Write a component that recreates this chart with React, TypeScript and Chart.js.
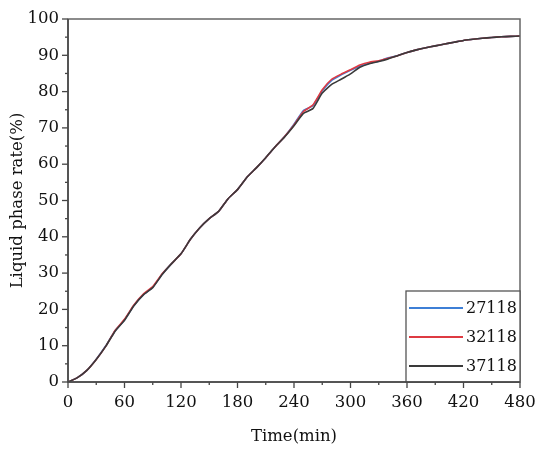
import { useRef, useEffect } from "react"
import React from "react"
import { Chart, registerables } from "chart.js"

Chart.register(...registerables)

const times = [0, 10, 20, 30, 40, 50, 60, 70, 80, 90, 100, 110, 120, 130, 140, 150, 160, 170, 180, 190, 200, 210, 220, 230, 240, 250, 260, 270, 280, 290, 300, 310, 320, 330, 340, 350, 360, 370, 380, 390, 400, 410, 420, 430, 440, 450, 460, 470, 480]

const s27118 = [0, 1.2, 3.2, 6.3, 9.9, 14.1, 17.1, 21.1, 24.0, 26.1, 29.7, 32.6, 35.3, 39.3, 42.5, 45.0, 47.0, 50.5, 53.0, 56.4, 59.0, 61.8, 64.8, 67.6, 71.0, 74.8, 76.1, 80.2, 83.1, 84.6, 85.9, 87.0, 87.8, 88.4, 89.3, 89.9, 90.8, 91.5, 92.1, 92.6, 93.1, 93.6, 94.1, 94.4, 94.7, 94.9, 95.1, 95.2, 95.3]

const s32118 = [0, 1.2, 3.2, 6.2, 9.8, 14.2, 17.3, 21.2, 24.2, 26.3, 29.8, 32.6, 35.3, 39.3, 42.5, 45.0, 47.0, 50.5, 53.0, 56.4, 59.0, 61.8, 64.8, 67.6, 70.8, 74.5, 76.3, 80.5, 83.4, 84.8, 86.0, 87.3, 88.1, 88.5, 89.2, 89.9, 90.8, 91.5, 92.1, 92.6, 93.1, 93.6, 94.1, 94.4, 94.7, 94.9, 95.1, 95.2, 95.3]

const s37118 = [0, 1.2, 3.2, 6.2, 9.8, 14.0, 17.0, 21.0, 24.0, 26.0, 29.6, 32.6, 35.3, 39.3, 42.5, 45.0, 47.0, 50.5, 53.0, 56.4, 59.0, 61.8, 64.8, 67.5, 70.6, 74.0, 75.3, 79.6, 82.0, 83.4, 84.9, 86.7, 87.7, 88.3, 89.0, 89.9, 90.8, 91.5, 92.1, 92.6, 93.1, 93.6, 94.1, 94.4, 94.7, 94.9, 95.1, 95.2, 95.3]

const seriesNames = ["27118", "32118", "37118"]
const seriesColors = ["#3d7fd6", "#de3a42", "#3a3a3a"]

const FONT = "'DejaVu Serif', serif"

// frame, outward ticks (major + minor) and the boxed legend
const decorPlugin = {
    id: "decor",
    afterDraw(chart: any) {
        const ctx = chart.ctx
        const { left, right, top, bottom } = chart.chartArea
        const xs = chart.scales.x
        const ys = chart.scales.y
        ctx.save()

        ctx.strokeStyle = "#444"
        ctx.lineWidth = 1.3
        for (let v = 0; v <= 100; v += 5) {
            const y = ys.getPixelForValue(v)
            const len = v % 10 === 0 ? 6 : 3
            ctx.beginPath()
            ctx.moveTo(left - len, y)
            ctx.lineTo(left, y)
            ctx.stroke()
        }
        for (let t = 0; t <= 480; t += 30) {
            const x = xs.getPixelForValue(t)
            const len = t % 60 === 0 ? 6 : 3
            ctx.beginPath()
            ctx.moveTo(x, bottom)
            ctx.lineTo(x, bottom + len)
            ctx.stroke()
        }

        ctx.strokeStyle = "#666"
        ctx.lineWidth = 1.5
        ctx.strokeRect(left, top, right - left, bottom - top)

        // legend box
        const w = 114
        const h = 91
        const lx = right - w
        const ly = bottom - h
        ctx.fillStyle = "#fff"
        ctx.fillRect(lx, ly, w, h)
        ctx.strokeStyle = "#555"
        ctx.lineWidth = 1.3
        ctx.strokeRect(lx, ly, w, h)
        ctx.font = "16px " + FONT
        ctx.textBaseline = "middle"
        ctx.textAlign = "left"
        chart.data.datasets.forEach((ds: any, i: number) => {
            const y = ly + 17 + i * 29
            ctx.strokeStyle = ds.borderColor
            ctx.lineWidth = 2
            ctx.beginPath()
            ctx.moveTo(lx + 3, y)
            ctx.lineTo(lx + 57, y)
            ctx.stroke()
            ctx.fillStyle = "#111"
            ctx.fillText(ds.label, lx + 60, y + 1)
        })

        ctx.strokeStyle = "#444"
        ctx.lineWidth = 1.5
        ctx.beginPath()
        ctx.moveTo(left, top)
        ctx.lineTo(left, bottom)
        ctx.lineTo(right, bottom)
        ctx.stroke()
        ctx.restore()
    },
}

const LiquidChart: React.FC = () => {
    const chartRef = useRef<HTMLCanvasElement>(null)
    const chartValueRef = useRef<Chart>()

    useEffect(() => {
        if (chartRef.current) {
            if (chartValueRef.current) {
                chartValueRef.current.destroy()
            }
            const series = [s27118, s32118, s37118]
            chartValueRef.current = new Chart(chartRef.current, {
                type: "line",
                data: {
                    datasets: series.map((vals, i) => ({
                        label: seriesNames[i],
                        data: times.map((t, j) => ({ x: t, y: vals[j] })),
                        borderColor: seriesColors[i],
                        borderWidth: 1.6,
                        pointRadius: 0,
                        tension: 0.15,
                        fill: false,
                        // black drawn last (on top), blue first
                        order: series.length - 1 - i,
                    })),
                },
                options: {
                    animation: false,
                    responsive: true,
                    maintainAspectRatio: false,
                    layout: { padding: { left: 0, top: 19, right: 30, bottom: 0 } },
                    plugins: {
                        legend: { display: false },
                        tooltip: { enabled: false },
                    },
                    scales: {
                        x: {
                            type: "linear",
                            min: 0,
                            max: 480,
                            afterFit: (scale: any) => { scale.height = 73 },
                            border: { display: false },
                            grid: { display: false, drawTicks: false },
                            ticks: {
                                stepSize: 60,
                                padding: 11,
                                color: "#111",
                                font: { family: FONT, size: 16.5 },
                                maxRotation: 0,
                            },
                            title: {
                                display: true,
                                text: "Time(min)",
                                color: "#111",
                                font: { family: FONT, size: 16.5 },
                                padding: { top: 0, bottom: 8 },
                            },
                        },
                        y: {
                            min: 0,
                            max: 100,
                            afterFit: (scale: any) => { scale.width = 68 },
                            border: { display: false },
                            grid: { display: false, drawTicks: false },
                            ticks: {
                                stepSize: 10,
                                padding: 9,
                                color: "#111",
                                font: { family: FONT, size: 16.5 },
                            },
                            title: {
                                display: true,
                                text: "Liquid phase rate(%)",
                                color: "#111",
                                font: { family: FONT, size: 16.5 },
                                padding: { top: 8, bottom: 0 },
                            },
                        },
                    },
                },
                plugins: [decorPlugin],
            })
        }

        return () => {
            if (chartValueRef.current) {
                chartValueRef.current.destroy()
            }
        }
    }, [])

    return (
        <div style={{ position: "absolute", left: 0, top: 0, width: 550, height: 455, background: "#fff" }}>
            <canvas ref={chartRef} />
        </div>
    )
}

export default function App() {
    return <LiquidChart />
}
